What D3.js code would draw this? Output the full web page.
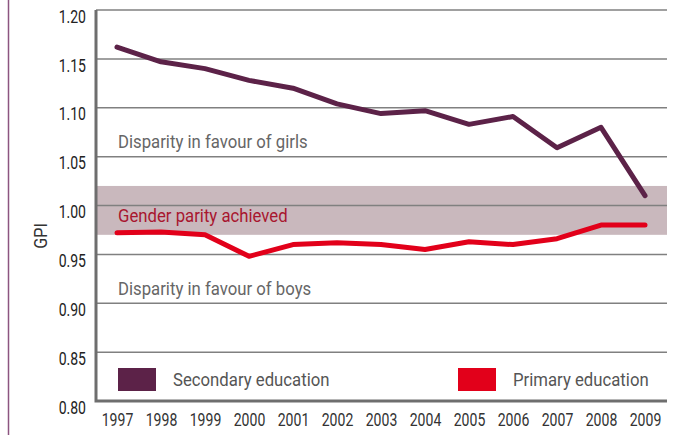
<!DOCTYPE html>
<html>
<head>
<meta charset="utf-8">
<script src="https://cdn.jsdelivr.net/npm/d3@7"></script>
<style>
  html, body { margin: 0; padding: 0; background: #fff; }
  svg { display: block; }
  text { font-family: Roboto, "Liberation Sans", sans-serif; }
</style>
</head>
<body>
<svg id="chart" width="675" height="435"></svg>
<script>
const years = [1997, 1998, 1999, 2000, 2001, 2002, 2003, 2004, 2005, 2006, 2007, 2008, 2009];
const secondary = [1.162, 1.147, 1.140, 1.128, 1.120, 1.104, 1.094, 1.097, 1.083, 1.091, 1.059, 1.080, 1.010];
const primary = [0.972, 0.973, 0.970, 0.948, 0.960, 0.962, 0.960, 0.955, 0.963, 0.960, 0.966, 0.980, 0.980];
const yTicks = [0.80, 0.85, 0.90, 0.95, 1.00, 1.05, 1.10, 1.15, 1.20];
const parityBand = [0.97, 1.02];
const seriesNames = ["Secondary education", "Primary education"];
const annotations = ["Disparity in favour of girls", "Gender parity achieved", "Disparity in favour of boys"];
const annotationValues = [1.059, 0.9835, 0.9085];

const SX = 0.78;  // horizontal condensing of axis text
const SXL = 0.93; // horizontal condensing of annotation/legend text
const svg = d3.select("#chart");
const mLeft = 96, mRight = 667, mTop = 10, mBottom = 401;

const x = d3.scalePoint().domain(years).range([117, 645]);
const y = d3.scaleLinear().domain([0.80, 1.20]).range([mBottom, mTop]);

// left decorative border
svg.append("line").attr("x1", 8.5).attr("x2", 8.5).attr("y1", 0).attr("y2", 435)
  .attr("stroke", "#8c5580").attr("stroke-width", 1.5);

// parity band
svg.append("rect")
  .attr("x", mLeft).attr("width", mRight - mLeft)
  .attr("y", y(parityBand[1])).attr("height", y(parityBand[0]) - y(parityBand[1]))
  .attr("fill", "#c9b8bd");

// gridlines
svg.append("g").selectAll("line").data(yTicks.filter(d => d > 0.8)).join("line")
  .attr("x1", mLeft).attr("x2", mRight)
  .attr("y1", d => y(d)).attr("y2", d => y(d))
  .attr("stroke", "#808080").attr("stroke-width", 1.5);

// y axis labels (top-aligned with gridline)
const yAxis = d3.axisLeft(y).tickValues(yTicks).tickFormat(d3.format(".2f")).tickSize(0).tickPadding(10);
const yg = svg.append("g").attr("transform", `translate(${mLeft},0)`).call(yAxis);
yg.select(".domain").remove();
yg.selectAll("text").attr("font-size", 18).attr("fill", "#222")
  .attr("x", -10 / SX).attr("dy", "0.68em")
  .attr("transform", `scale(${SX},1)`)
  .style("font-family", "Roboto, sans-serif");

// x axis labels
const xAxis = d3.axisBottom(x).tickSize(0).tickPadding(13);
const xg = svg.append("g").attr("transform", `translate(0,${mBottom})`).call(xAxis);
xg.select(".domain").remove();
xg.selectAll("text").attr("font-size", 18).attr("fill", "#333")
  .attr("dy", "0.68em")
  .attr("transform", `scale(${SX},1)`)
  .style("font-family", "Roboto, sans-serif");

// axis lines
svg.append("path").attr("d", `M${mLeft},${mTop}V${mBottom}H${mRight}`)
  .attr("fill", "none").attr("stroke", "#6e6e6e").attr("stroke-width", 3);

// annotations
const annColors = ["#666666", "#a8162f", "#666666"];
svg.append("g").selectAll("g").data(annotations).join("g")
  .attr("transform", (d, i) => `translate(118,${y(annotationValues[i])}) scale(${SXL},1)`)
  .append("text")
  .attr("font-size", 18).attr("fill", (d, i) => annColors[i])
  .text(d => d);

// lines
const line = d3.line().x((d, i) => x(years[i])).y(d => y(d));
svg.append("path").datum(secondary).attr("d", line)
  .attr("fill", "none").attr("stroke", "#5c2248").attr("stroke-width", 5)
  .attr("stroke-linecap", "round").attr("stroke-linejoin", "round");
svg.append("path").datum(primary).attr("d", line)
  .attr("fill", "none").attr("stroke", "#e2001a").attr("stroke-width", 5)
  .attr("stroke-linecap", "round").attr("stroke-linejoin", "round");

// legend
const legColors = ["#5c2248", "#e2001a"];
const legX = [118, 458];
const leg = svg.append("g").selectAll("g").data(seriesNames).join("g")
  .attr("transform", (d, i) => `translate(${legX[i]},368)`);
leg.append("rect").attr("width", 38).attr("height", 23).attr("fill", (d, i) => legColors[i]);
leg.append("g").attr("transform", `translate(55,18) scale(${SXL},1)`)
  .append("text").attr("font-size", 18).attr("fill", "#555")
  .text(d => d);

// GPI label
svg.append("g").attr("transform", "translate(47,236) rotate(-90)")
  .append("text").attr("transform", "scale(0.9,1)")
  .attr("text-anchor", "middle").attr("font-size", 18).attr("fill", "#333").text("GPI");
</script>
</body>
</html>
